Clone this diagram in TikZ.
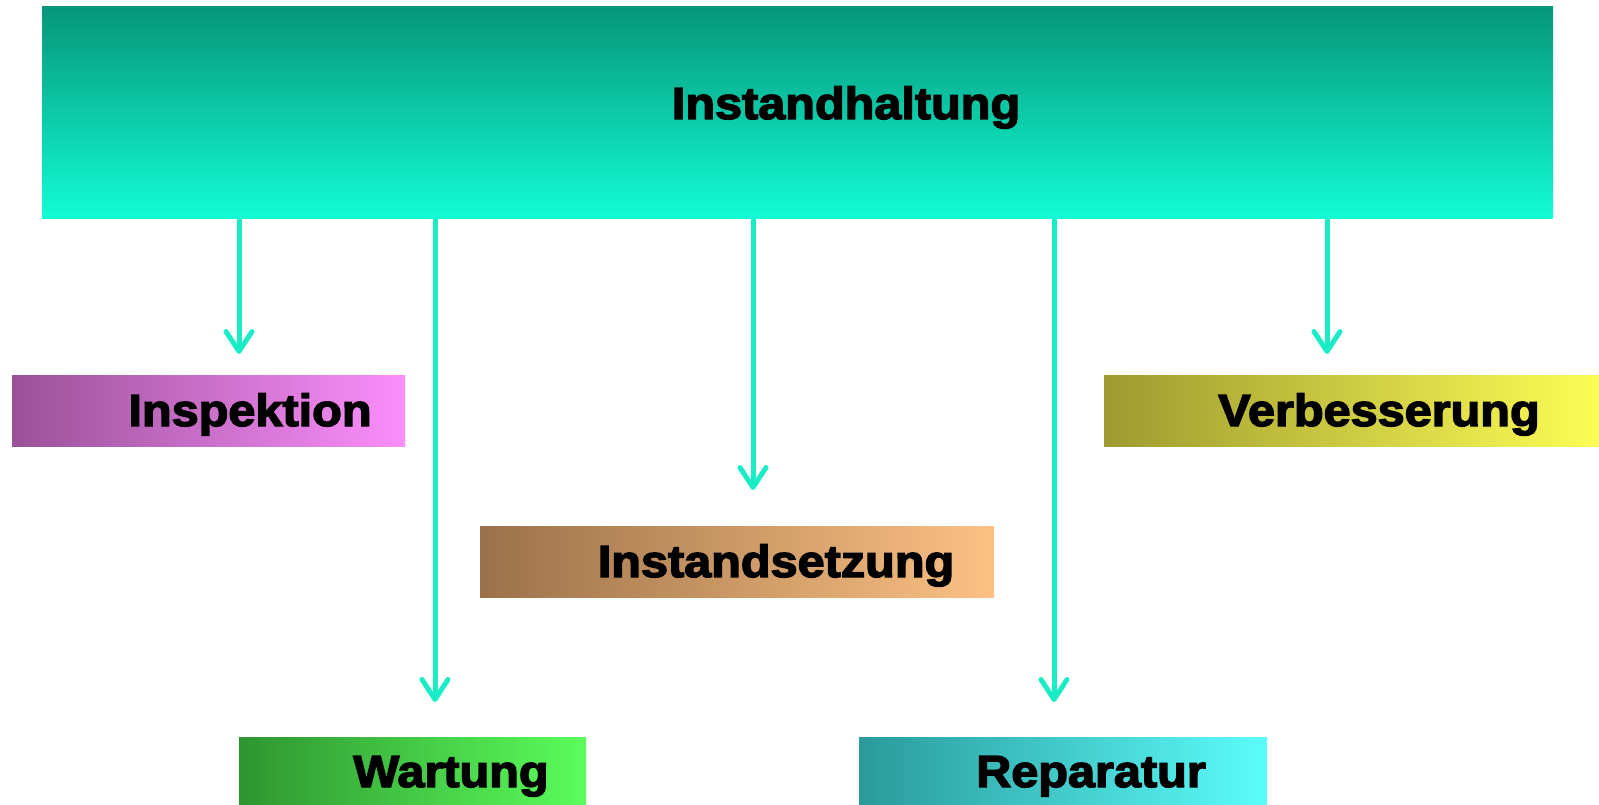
\documentclass[tikz,border=0pt]{standalone}
\usepackage{fontspec}
\setmainfont{Liberation Sans}
\newfontfamily\heavyfont{Liberation Sans Bold}[FakeBold=3]
\usetikzlibrary{arrows.meta}
\definecolor{topA}{HTML}{06967A}
\definecolor{topB}{HTML}{12FDD5}
\definecolor{insA}{HTML}{9A5199}
\definecolor{insB}{HTML}{FB8EFB}
\definecolor{verA}{HTML}{9E9A30}
\definecolor{verB}{HTML}{FDFD55}
\definecolor{setA}{HTML}{9C714A}
\definecolor{setB}{HTML}{FCC183}
\definecolor{warA}{HTML}{2E9530}
\definecolor{warB}{HTML}{5BFD5B}
\definecolor{repA}{HTML}{2A9A9A}
\definecolor{repB}{HTML}{5CFCFC}
\definecolor{arr}{HTML}{1AEDC5}
\tikzset{
  lbl/.style={font=\heavyfont\fontsize{45}{50}\selectfont, text=black, inner sep=0pt, anchor=base, xscale=1.08},
  conn/.style={draw=arr, line width=5pt, -{Straight Barb[length=20pt,width=26pt,line cap=round,line join=round]}},
}
\begin{document}
\begin{tikzpicture}[x=1pt,y=-1pt]
\useasboundingbox (0,0) rectangle (1599,805);
% top box
\shade[top color=topA, bottom color=topB] (42,7) rectangle (1553,219);
\node[minimum width=1511pt, minimum height=212pt, inner sep=0pt] (top) at (797.5,113) {};
\node[lbl] (tt) at (846,119) {Instandhaltung};
% child boxes
\shade[left color=insA, right color=insB] (12,375) rectangle (405,446);
\node[minimum width=393pt, minimum height=71pt, inner sep=0pt] (ins) at (208.5,410.5) {};
\node[lbl] at (250,426) {Inspektion};
\shade[left color=verA, right color=verB] (1104,375) rectangle (1599,446);
\node[minimum width=495pt, minimum height=71pt, inner sep=0pt] (ver) at (1351.5,410.5) {};
\node[lbl] at (1379,426) {Verbesserung};
\shade[left color=setA, right color=setB] (480,526) rectangle (994,597);
\node[minimum width=514pt, minimum height=71pt, inner sep=0pt] (set) at (737,561.5) {};
\node[lbl] at (776,577) {Instandsetzung};
\shade[left color=warA, right color=warB] (239,737) rectangle (586,805);
\node[minimum width=347pt, minimum height=68pt, inner sep=0pt] (war) at (412.5,771) {};
\node[lbl] at (451,787) {Wartung};
\shade[left color=repA, right color=repB] (859,737) rectangle (1267,805);
\node[minimum width=408pt, minimum height=68pt, inner sep=0pt] (rep) at (1063,771) {};
\node[lbl] at (1091,787) {Reparatur};
% arrow tips
\coordinate (t1) at (239,354);
\coordinate (t2) at (435,702);
\coordinate (t3) at (753,490);
\coordinate (t4) at (1054,702);
\coordinate (t5) at (1327,354);
\draw[conn] (top.south -| t1) -- (t1);
\draw[conn] (top.south -| t2) -- (t2);
\draw[conn] (top.south -| t3) -- (t3);
\draw[conn] (top.south -| t4) -- (t4);
\draw[conn] (top.south -| t5) -- (t5);
\end{tikzpicture}
\end{document}
